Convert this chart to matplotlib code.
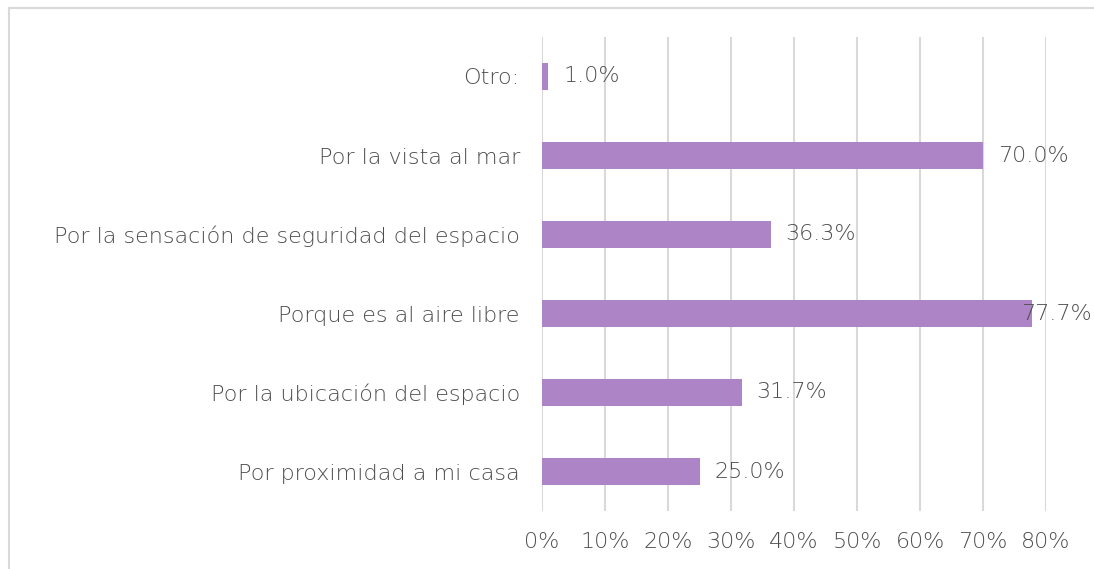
import matplotlib
matplotlib.use('agg')
import matplotlib.pyplot as plt
from matplotlib.lines import Line2D
from matplotlib.ticker import FuncFormatter

categories = ['Por proximidad a mi casa', 'Por la ubicación del espacio',
              'Porque es al aire libre', 'Por la sensación de seguridad del espacio',
              'Por la vista al mar', 'Otro:']
values = [25.0, 31.7, 77.7, 36.3, 70.0, 1.0]

W, H = 1094, 569
fig = plt.figure(figsize=(W / 100, H / 100), dpi=100)
plt.rcParams['font.family'] = ['DejaVu Sans']
plt.rcParams['font.weight'] = 'light'
txt = '#4d4d4d'
fs = 16

# axes placement in pixels: x 542..1046, y 37..511
ax = fig.add_axes([542 / W, 1 - 511 / H, (1046 - 542) / W, (511 - 37) / H])
ax.barh(range(len(values)), values, height=0.35, color='#ad84c6', zorder=3)
ax.set_xlim(0, 80)
ax.set_ylim(-0.5, len(values) - 0.5)
ax.set_yticks(range(len(values)))
ax.set_yticklabels(categories, fontsize=fs, color=txt)
ax.set_xticks(range(0, 81, 10))
ax.xaxis.set_major_formatter(FuncFormatter(lambda v, p: '%d%%' % v))
ax.tick_params(axis='x', labelsize=fs, colors=txt, length=0, pad=15)
ax.tick_params(axis='y', length=0, pad=16)
ax.grid(axis='x', color='#d9d9d9', linewidth=1.5, zorder=0)
for s in ax.spines.values():
    s.set_visible(False)

for i, v in enumerate(values):
    # the longest bar's label is pushed back inside the chart area, as in the original
    off = -10 if v > 75 else 15
    ax.annotate('%.1f%%' % v, (v, i), xytext=(off, 0), textcoords='offset pixels',
                ha='left', va='center', fontsize=fs, color=txt, zorder=4)

# outer chart border (only left and top edges fall inside the image)
bx, by = 8.5 / W, 1 - 7.5 / H
fig.add_artist(Line2D([bx, bx], [-0.01, by], transform=fig.transFigure, color='#d9d9d9', lw=1.5))
fig.add_artist(Line2D([bx, 1.01], [by, by], transform=fig.transFigure, color='#d9d9d9', lw=1.5))

fig.savefig('out.png', dpi=100)
